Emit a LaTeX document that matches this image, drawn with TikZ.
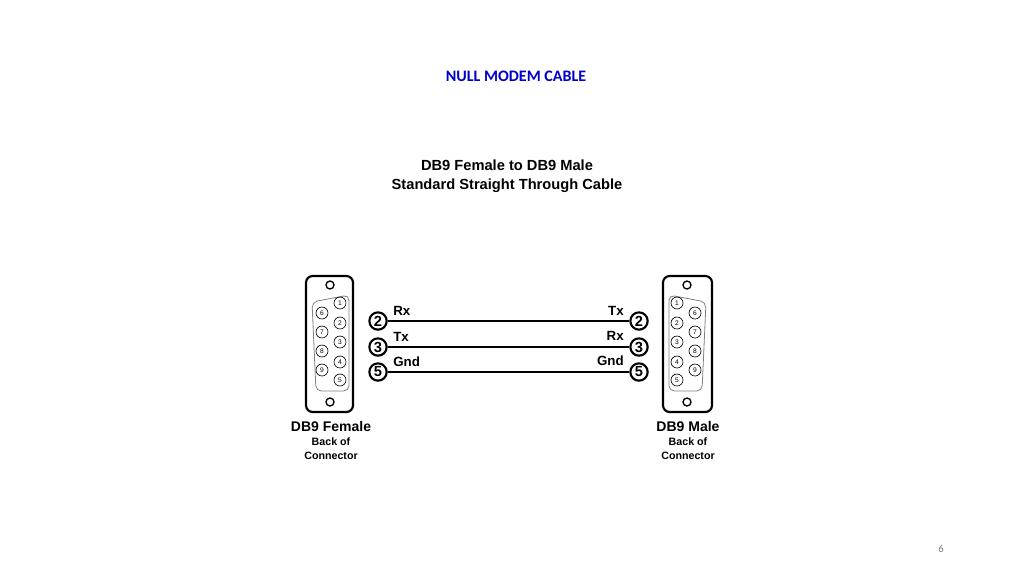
\documentclass[tikz,border=0pt]{standalone}
\usepackage{fontspec}
\setmainfont{Liberation Sans}
\newfontfamily\carlitofont{Carlito}
\begin{document}
\begin{tikzpicture}[x=0.75pt,y=-0.75pt,
  pin/.style={circle,draw,line width=0.5pt,minimum size=9pt,inner sep=0pt,font=\fontsize{5}{5}\selectfont},
  wpin/.style={circle,draw,line width=1.6pt,minimum size=13pt,inner sep=0pt,font=\bfseries\fontsize{11}{11}\selectfont},
  wire/.style={line width=2.2pt},
  lbl/.style={font=\bfseries\fontsize{10}{12}\selectfont,inner sep=0pt},
  captext/.style={align=center,inner sep=0pt}]
\useasboundingbox (0,0) rectangle (1024,576);
\node[font=\carlitofont\bfseries\fontsize{12}{14}\selectfont,text={rgb,255:red,0;green,0;blue,204}] (title) at (516,76) {NULL MODEM CABLE};
\node[captext,font=\bfseries\fontsize{11}{14}\selectfont] (sub) at (507,176) {DB9 Female to DB9 Male\\Standard Straight Through Cable};
% female
\draw[line width=1.6pt,rounded corners=5pt] (306,276) rectangle (353,412);
\draw[line width=1pt] (330,285) circle (4);
\draw[line width=1pt] (330,402) circle (4);
\draw[gray,line width=0.6pt,rounded corners=4pt] (312,302) -- (349,295) -- (349,391) -- (316,391) -- cycle;
\foreach \n/\y in {1/303,2/323,3/342,4/362,5/380} \node[pin] (f\n) at (340,\y) {\n};
\foreach \n/\y in {6/313,7/332,8/351,9/370} \node[pin] (f\n) at (322,\y) {\n};
% male
\draw[line width=1.6pt,rounded corners=5pt] (663,276) rectangle (712,412);
\draw[line width=1pt] (687,285) circle (4);
\draw[line width=1pt] (687,402) circle (4);
\draw[gray,line width=0.6pt,rounded corners=4pt] (706,302) -- (669,295) -- (669,391) -- (702,391) -- cycle;
\foreach \n/\y in {1/303,2/323,3/342,4/362,5/380} \node[pin] (m\n) at (677,\y) {\n};
\foreach \n/\y in {6/313,7/332,8/351,9/370} \node[pin] (m\n) at (695,\y) {\n};
% wires
\foreach \n/\y in {2/321,3/347,5/372}{
  \node[wpin] (L\n) at (378,\y) {\n};
  \node[wpin] (R\n) at (639,\y) {\n};
  \draw[wire] (L\n) -- (R\n);
}
\node[lbl,anchor=west] (rx1) at (393,311) {Rx};
\node[lbl,anchor=west] (tx1) at (393,337) {Tx};
\node[lbl,anchor=west] (g1) at (393,362) {Gnd};
\node[lbl,anchor=east] (tx2) at (624,311) {Tx};
\node[lbl,anchor=east] (rx2) at (624,336) {Rx};
\node[lbl,anchor=east] (g2) at (624,361) {Gnd};
\node[captext] (cf) at (331,440) {{\bfseries\fontsize{10.5}{12}\selectfont DB9 Female}\\[-1pt]{\bfseries\fontsize{8}{11}\selectfont Back of}\\[-2pt]{\bfseries\fontsize{8}{11}\selectfont Connector}};
\node[captext] (cm) at (688,440) {{\bfseries\fontsize{10.5}{12}\selectfont DB9 Male}\\[-1pt]{\bfseries\fontsize{8}{11}\selectfont Back of}\\[-2pt]{\bfseries\fontsize{8}{11}\selectfont Connector}};
\node[font=\carlitofont\fontsize{8}{10}\selectfont,text=gray] (pg) at (941,549) {6};
\end{tikzpicture}
\end{document}
